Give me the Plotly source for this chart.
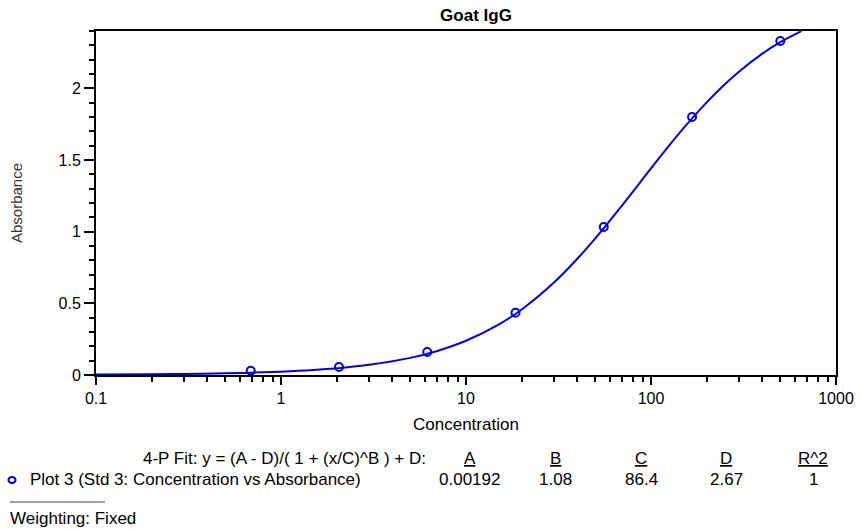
import plotly.graph_objects as go

# ---- data ----
conc = [0.686, 2.058, 6.173, 18.52, 55.56, 166.7, 500.0]
absorbance = [0.030, 0.056, 0.160, 0.434, 1.033, 1.800, 2.330]

fit_x = [0.1, 0.2, 0.3, 0.5, 0.7, 1, 1.5, 2, 3, 5, 7, 10, 15, 20, 30, 40, 50,
         70, 100, 120, 150, 200, 250, 300, 400, 500, 650]
fit_y = [0.0037, 0.0057, 0.0078, 0.0121, 0.0165, 0.0234, 0.035, 0.0469, 0.0709,
         0.1195, 0.1677, 0.2387, 0.3517, 0.4575, 0.6473, 0.8111, 0.953, 1.185,
         1.441, 1.570, 1.722, 1.902, 2.027, 2.118, 2.242, 2.322, 2.399]

x_tickvals = [0.1, 1, 10, 100, 1000]
x_ticktext = ["0.1", "1", "10", "100", "1000"]
y_tickvals = [0, 0.5, 1, 1.5, 2]
y_ticktext = ["0", "0.5", "1", "1.5", "2"]

param_names = ["A", "B", "C", "D", "R^2"]
param_values = ["0.00192", "1.08", "86.4", "2.67", "1"]

title_text = "Goat IgG"
x_title = "Concentration"
y_title = "Absorbance"
fit_label = "4-P Fit: y = (A - D)/( 1 + (x/C)^B ) + D:"
plot_label = "Plot 3 (Std 3: Concentration vs Absorbance)"
weight_label = "Weighting: Fixed"

# ---- layout geometry (pixels) ----
W, H = 861, 529
L, R, T, B = 96, 836, 31, 375
FONT = "Liberation Sans, Arial, sans-serif"
BLUE = "rgb(0,0,235)"
FS = 16
FT = 17


def px(xp):
    return (xp - L) / (R - L)


def py(yp):
    return (B - yp) / (B - T)


fig = go.Figure()
fig.add_trace(go.Scatter(x=fit_x, y=fit_y, mode="lines",
                         line=dict(color=BLUE, width=2, shape="spline"),
                         showlegend=False, hoverinfo="skip"))
fig.add_trace(go.Scatter(x=conc, y=absorbance, mode="markers",
                         marker=dict(symbol="circle-open", size=8, color=BLUE,
                                     line=dict(width=2, color=BLUE)),
                         name=plot_label, showlegend=False))

axis_common = dict(showline=True, linecolor="black", linewidth=2, mirror=True,
                   ticks="outside", tickcolor="black", tickwidth=2,
                   showgrid=False, zeroline=False,
                   tickfont=dict(family=FONT, size=FS, color="black"))

fig.update_xaxes(type="log", range=[-1, 3], tickvals=x_tickvals,
                 ticktext=x_ticktext, ticklen=8,
                 minor=dict(ticks="outside", ticklen=5, tickwidth=2,
                            tickcolor="black", dtick="D1", showgrid=False),
                 **axis_common)
fig.update_yaxes(range=[0, 2.4], tickvals=y_tickvals, ticktext=y_ticktext,
                 ticklen=10,
                 minor=dict(ticks="outside", ticklen=5, tickwidth=2,
                            tickcolor="black", dtick=0.1, showgrid=False),
                 **axis_common)

ann = []
txt = dict(family=FONT, size=FT, color="black")
ann.append(dict(text=x_title, x=px(466), y=py(424), xref="paper", yref="paper",
                showarrow=False, font=txt, xanchor="center", yanchor="middle"))
ann.append(dict(text=y_title, x=px(16), y=py(203), xref="paper", yref="paper",
                showarrow=False, font=dict(family=FONT, size=15, color="#333"),
                textangle=-90, xanchor="center", yanchor="middle"))
ann.append(dict(text=fit_label, x=px(428), y=py(458), xref="paper", yref="paper",
                showarrow=False, font=txt, xanchor="right", yanchor="middle"))
col_x = [470, 555, 641, 726, 813]
for cx, nm, val in zip(col_x, param_names, param_values):
    ann.append(dict(text="<u>" + nm + "</u>", x=px(cx), y=py(458), xref="paper",
                    yref="paper", showarrow=False, font=txt,
                    xanchor="center", yanchor="middle"))
    ann.append(dict(text=val, x=px(cx), y=py(480), xref="paper", yref="paper",
                    showarrow=False, font=txt, xanchor="center", yanchor="middle"))
ann.append(dict(text=plot_label, x=px(28), y=py(480), xref="paper", yref="paper",
                showarrow=False, font=txt, xanchor="left", yanchor="middle"))
ann.append(dict(text=weight_label, x=px(8), y=py(518), xref="paper", yref="paper",
                showarrow=False, font=txt, xanchor="left", yanchor="middle"))

shapes = [
    dict(type="circle", xref="paper", yref="paper", xsizemode="pixel",
         ysizemode="pixel", xanchor=px(12), yanchor=py(480),
         x0=-3.5, x1=3.5, y0=-3, y1=3, line=dict(color=BLUE, width=2)),
    dict(type="line", xref="paper", yref="paper", x0=px(10), x1=px(105),
         y0=py(502), y1=py(502), line=dict(color="#444", width=1)),
]

fig.update_layout(
    width=W, height=H,
    margin=dict(l=L, r=W - R, t=T, b=H - B, autoexpand=False),
    paper_bgcolor="white", plot_bgcolor="white",
    title=dict(text="<b>" + title_text + "</b>", x=476 / W, xanchor="center",
               y=1 - 15 / H, yanchor="middle",
               font=dict(family=FONT, size=17, color="black")),
    annotations=ann, shapes=shapes, showlegend=False,
)

fig.write_html("out.html", config={"displayModeBar": False},
               post_script="document.body.style.margin='0';"
                           "document.body.style.overflow='hidden';")
